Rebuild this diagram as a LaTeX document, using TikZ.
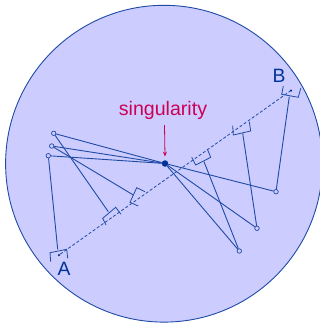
\documentclass[tikz,border=0pt]{standalone}
\usepackage{xcolor}
\usepackage{fontspec}
\setmainfont{Liberation Sans}
\usetikzlibrary{arrows.meta, positioning}
\definecolor{diskfill}{HTML}{CCCCFF}
\definecolor{diskblue}{HTML}{1F4BA5}
\definecolor{labelblue}{HTML}{003399}
\definecolor{singred}{HTML}{CC0055}
\tikzset{
    source/.style={draw=diskblue, fill=diskfill, circle, inner sep=0pt, minimum size=4.5pt, line width=0.7pt},
    ray/.style={draw=diskblue, line width=0.9pt},
    corner/.style={draw=diskblue, line width=0.8pt},
    biglabel/.style={font=\fontsize{19.3}{20}\selectfont, inner sep=0pt}
}

\begin{document}
\begin{tikzpicture}[x=1pt, y=-1pt]
    \clip (0,0) rectangle (320,325);
    \fill[white] (0,0) rectangle (320,325);
    \node[draw=diskblue, fill=diskfill, circle, inner sep=0pt, line width=0.9pt,
          minimum size=316.8pt] (disk) at (164,163.7) {};

    % end points of the axis
    \node[circle, fill=labelblue, inner sep=0pt, minimum size=2.5pt] (pa) at (59,255) {};
    \node[circle, fill=labelblue, inner sep=0pt, minimum size=2.5pt] (pb) at (291,90.5) {};
    \node[biglabel, text=labelblue] (la) at (64,269) {A};
    \node[biglabel, text=labelblue] (lb) at (279,76) {B};
    \draw[diskblue, dashed, line width=0.8pt, dash pattern=on 3pt off 2pt] (pa) -- (pb);

    \node[circle, fill=labelblue, inner sep=0pt, minimum size=6.5pt] (sing) at (165,163.5) {};
    \node[font=\fontsize{19.6}{20}\selectfont, text=singred, inner sep=0pt] (title) at (163,110) {singularity};
    \coordinate (arrowtop) at (164.5,125);
    \draw[-{Stealth[length=5pt, width=4pt]}, singred, line width=0.8pt] (arrowtop) -- ([yshift=3.5pt]sing.north);

    \node[source] (s1) at (53.7,133.3) {};
    \node[source] (s2) at (51.7,146) {};
    \node[source] (s3) at (48.3,155.7) {};
    \node[source] (s4) at (276,191.7) {};
    \node[source] (s5) at (257,228.3) {};
    \node[source] (s6) at (239.3,251) {};

    \coordinate (f1) at (108.3,211.7);
    \coordinate (f2) at (133.3,195);
    \coordinate (f3) at (57.7,249.3);
    \coordinate (f4) at (289.3,96.7);
    \coordinate (f5) at (242.7,133.3);
    \coordinate (f6) at (204,161.7);

    \foreach \i in {1,...,6} {
        \draw[ray] (s\i) -- (sing);
        \draw[ray] (s\i) -- (f\i);
    }

    % right angle marks
    \draw[corner] (106,225) -- (102.7,218.3) -- (115.7,207.3) -- (121,214.3);
    \draw[corner] (138.3,206) -- (130,202.3) -- (136.7,187.7) -- (145,191.7);
    \draw[corner] (50.7,261.7) -- (50,252.7) -- (66.7,249.3) -- (67.7,258.3);
    \draw[corner] (283.3,86) -- (281.7,94.3) -- (298.3,97.3) -- (300.7,88.3);
    \draw[corner] (232.7,125.7) -- (233.3,135) -- (250.7,131) -- (249.3,121.7);
    \draw[corner] (191.7,157.3) -- (195.7,165) -- (210.7,157.3) -- (207.3,149);
\end{tikzpicture}
\end{document}
